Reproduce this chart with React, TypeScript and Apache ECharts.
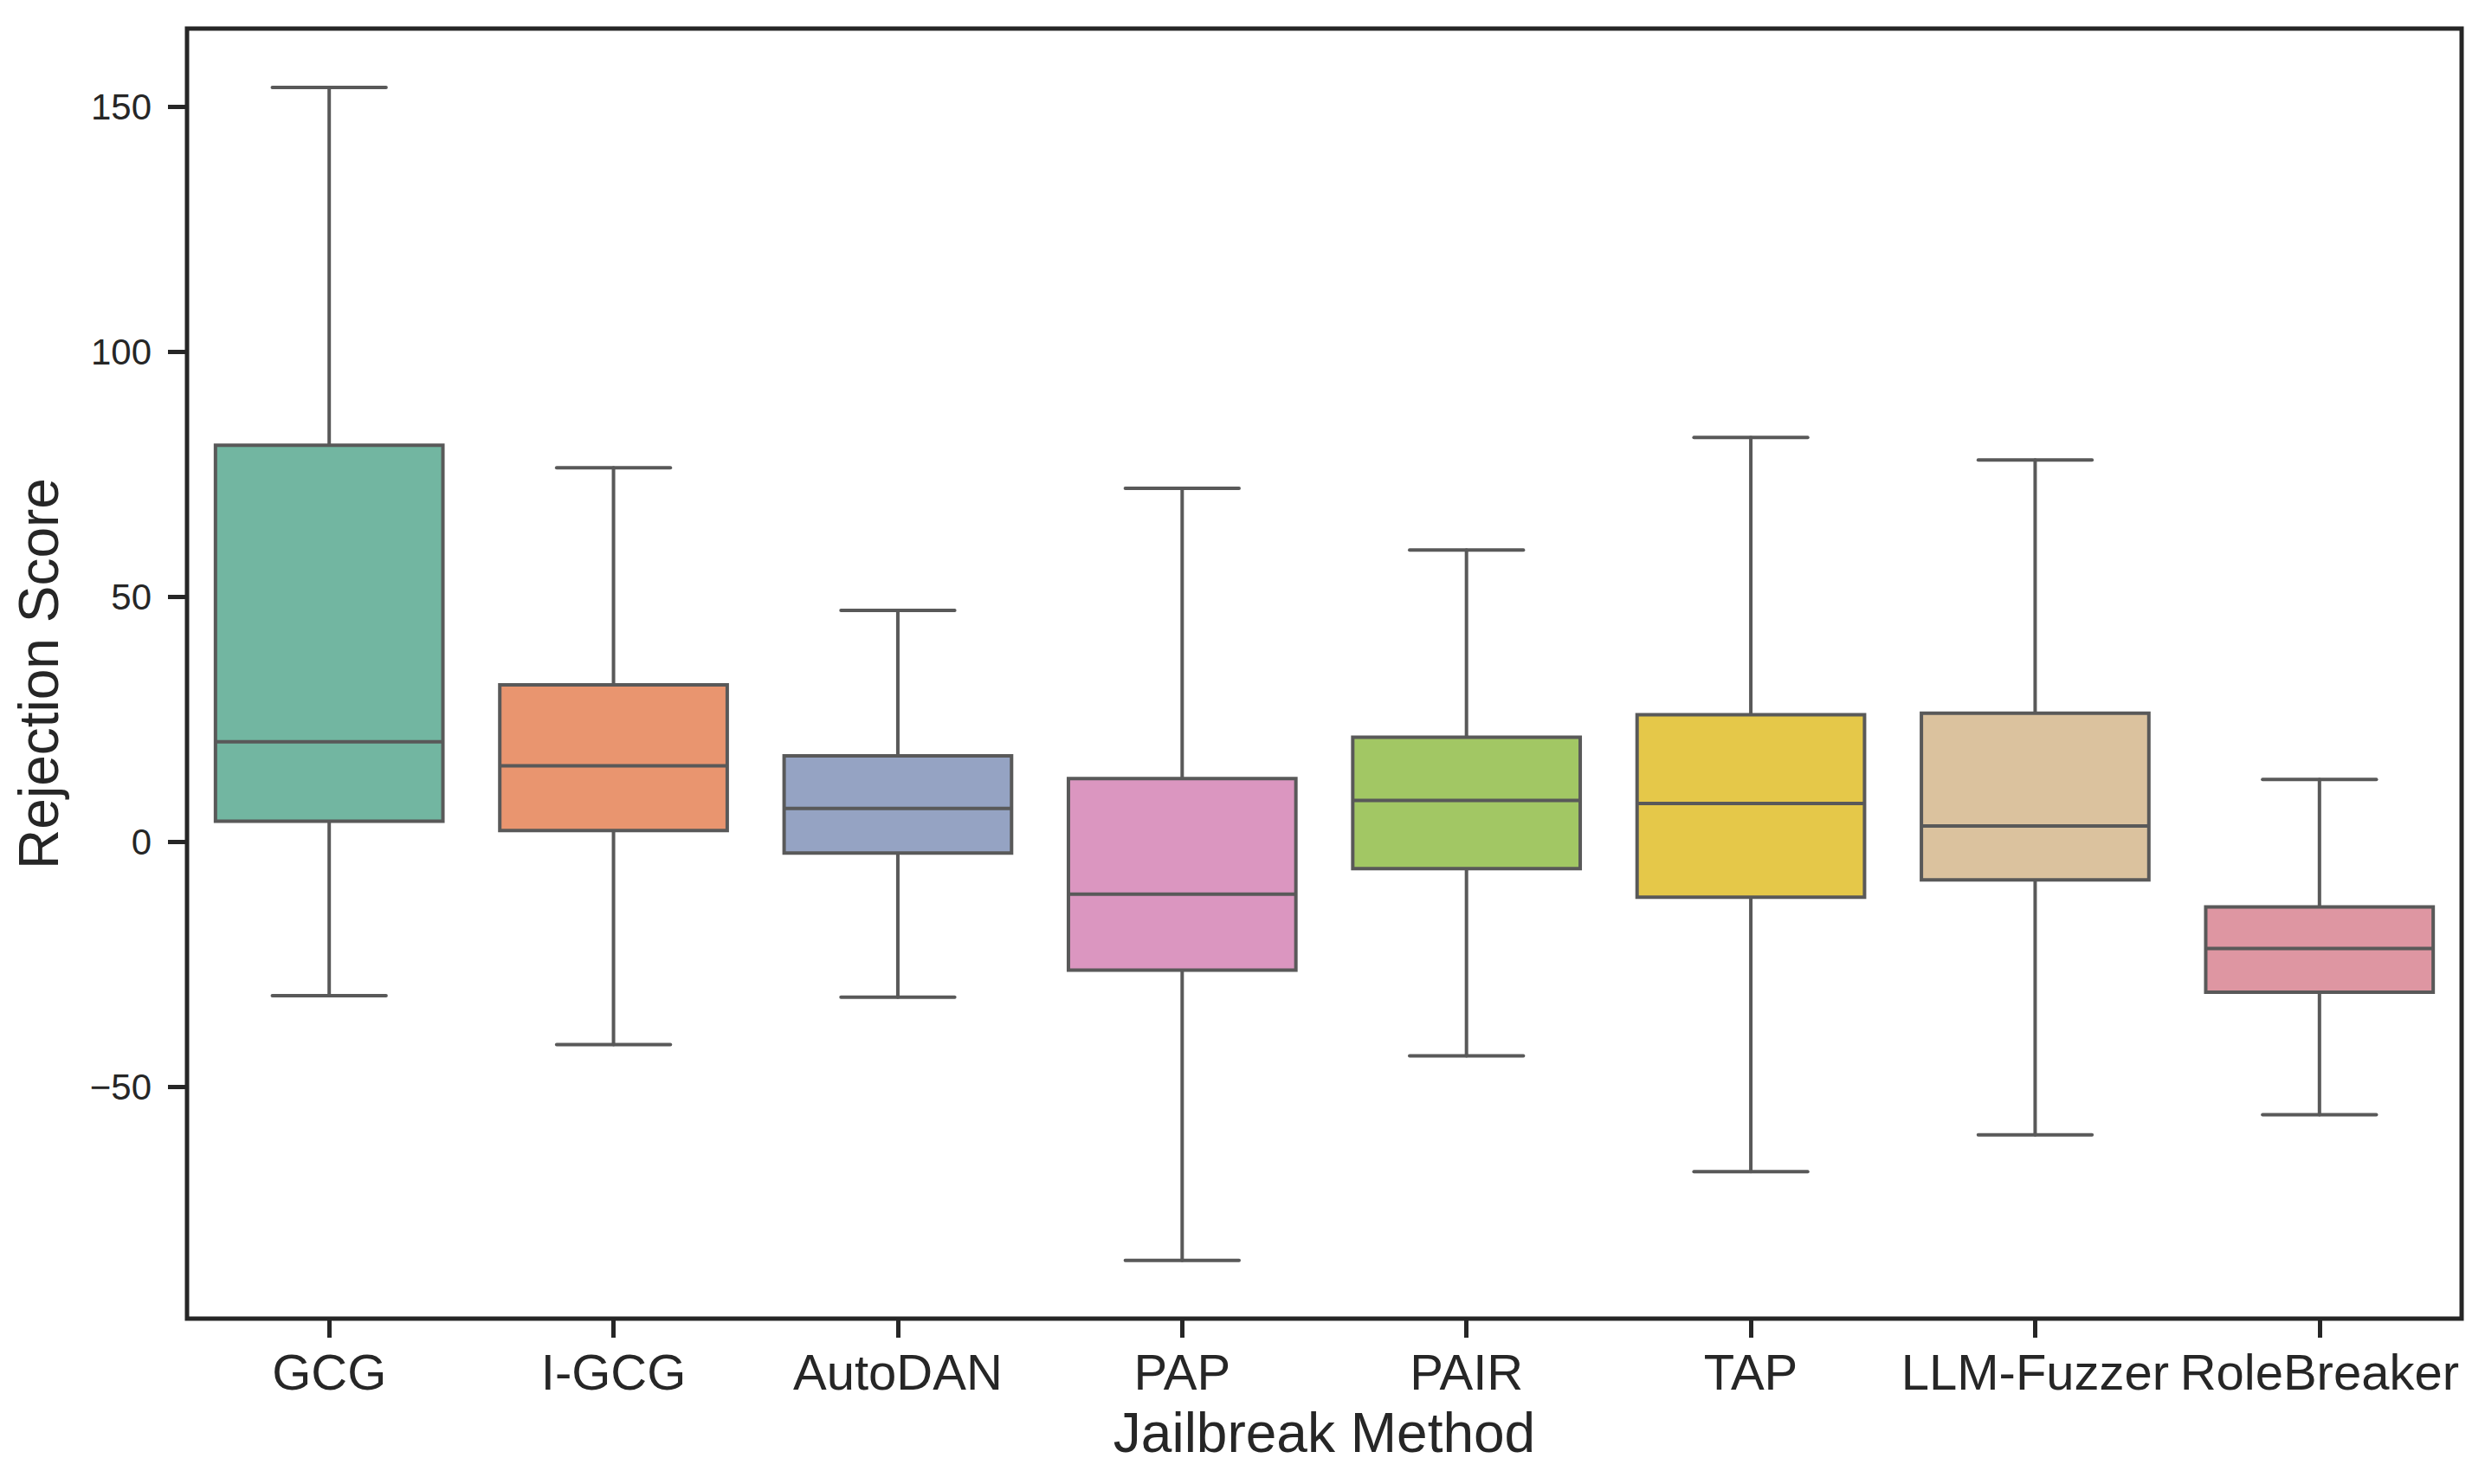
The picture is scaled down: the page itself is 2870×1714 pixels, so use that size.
import React, { useEffect, useRef } from "react";
import * as echarts from "echarts";

const categories = ["GCG", "I-GCG", "AutoDAN", "PAP", "PAIR", "TAP", "LLM-Fuzzer", "RoleBreaker"];
const whiskerLow = [-31.4, -41.4, -31.7, -85.4, -43.7, -67.3, -59.8, -55.7];
const quartile1 = [4.2, 2.3, -2.3, -26.2, -5.5, -11.3, -7.8, -30.7];
const medians = [20.4, 15.5, 6.8, -10.7, 8.4, 7.8, 3.2, -21.8];
const quartile3 = [80.9, 32.0, 17.5, 12.9, 21.3, 25.9, 26.2, -13.3];
const whiskerHigh = [153.9, 76.3, 47.2, 72.1, 59.5, 82.5, 77.9, 12.7];
const boxColors = ["#72b6a1", "#e9956f", "#95a3c3", "#db96c0", "#a2c764", "#e5c849", "#dbc29e", "#de96a2"];
const yTicks = [-50, 0, 50, 100, 150];

const LINE = "#595959";
const INK = "#262626";
const FONT = "'Liberation Sans', Arial, Helvetica, sans-serif";

export default function App() {
  const ref = useRef<HTMLDivElement>(null);
  useEffect(() => {
    document.body.style.margin = "0";
    const chart = echarts.init(ref.current!, null, { renderer: "svg" });
    const data = categories.map((_, i) => [i, whiskerLow[i], quartile1[i], medians[i], quartile3[i], whiskerHigh[i]]);
    chart.setOption({
      animation: false,
      backgroundColor: "#ffffff",
      grid: {
        left: 216,
        right: 27,
        top: 33,
        bottom: 191,
        show: true,
        borderColor: INK,
        borderWidth: 5,
        backgroundColor: "transparent",
      },
      xAxis: {
        type: "category",
        data: categories,
        position: "bottom",
        name: "Jailbreak Method",
        nameLocation: "middle",
        nameGap: 100,
        nameTextStyle: { fontSize: 64, color: INK, fontFamily: FONT },
        axisLine: { show: false, onZero: false },
        axisTick: { show: true, alignWithLabel: true, length: 22, lineStyle: { width: 5, color: INK } },
        axisLabel: { fontSize: 58, color: INK, fontFamily: FONT, margin: 32, interval: 0 },
        splitLine: { show: false },
      },
      yAxis: {
        type: "value",
        min: -97.3,
        max: 165.9,
        position: "left",
        name: "Rejection Score",
        nameLocation: "middle",
        nameGap: 139,
        nameTextStyle: { fontSize: 64, color: INK, fontFamily: FONT },
        axisLine: { show: false, onZero: false },
        axisTick: { show: true, customValues: yTicks, length: 22, lineStyle: { width: 5, color: INK } },
        axisLabel: {
          customValues: yTicks,
          fontSize: 42,
          color: INK,
          fontFamily: FONT,
          margin: 41,
          formatter: (v: number) => (v < 0 ? "\u2212" + Math.abs(v) : String(v)),
        },
        splitLine: { show: false },
      },
      series: [
        {
          type: "custom",
          data,
          encode: { x: 0, y: [1, 2, 3, 4, 5] },
          renderItem: (params: any, api: any) => {
            const idx = api.value(0);
            const band = api.size([1, 0])[0];
            const bw = band * 0.8;
            const cw = bw * 0.5;
            const cx = api.coord([idx, 0])[0];
            const yLow = api.coord([idx, api.value(1)])[1];
            const yQ1 = api.coord([idx, api.value(2)])[1];
            const yMed = api.coord([idx, api.value(3)])[1];
            const yQ3 = api.coord([idx, api.value(4)])[1];
            const yHigh = api.coord([idx, api.value(5)])[1];
            const ls = { stroke: LINE, lineWidth: 4, lineCap: "round" };
            return {
              type: "group",
              children: [
                { type: "line", shape: { x1: cx, y1: yHigh, x2: cx, y2: yQ3 }, style: ls },
                { type: "line", shape: { x1: cx, y1: yQ1, x2: cx, y2: yLow }, style: ls },
                { type: "line", shape: { x1: cx - cw / 2, y1: yHigh, x2: cx + cw / 2, y2: yHigh }, style: ls },
                { type: "line", shape: { x1: cx - cw / 2, y1: yLow, x2: cx + cw / 2, y2: yLow }, style: ls },
                {
                  type: "rect",
                  shape: { x: cx - bw / 2, y: yQ3, width: bw, height: yQ1 - yQ3 },
                  style: { fill: boxColors[idx], stroke: LINE, lineWidth: 4 },
                },
                { type: "line", shape: { x1: cx - bw / 2, y1: yMed, x2: cx + bw / 2, y2: yMed }, style: { stroke: LINE, lineWidth: 4 } },
              ],
            };
          },
        },
      ],
    });
    return () => chart.dispose();
  }, []);
  return <div ref={ref} style={{ width: 2870, height: 1714 }} />;
}
